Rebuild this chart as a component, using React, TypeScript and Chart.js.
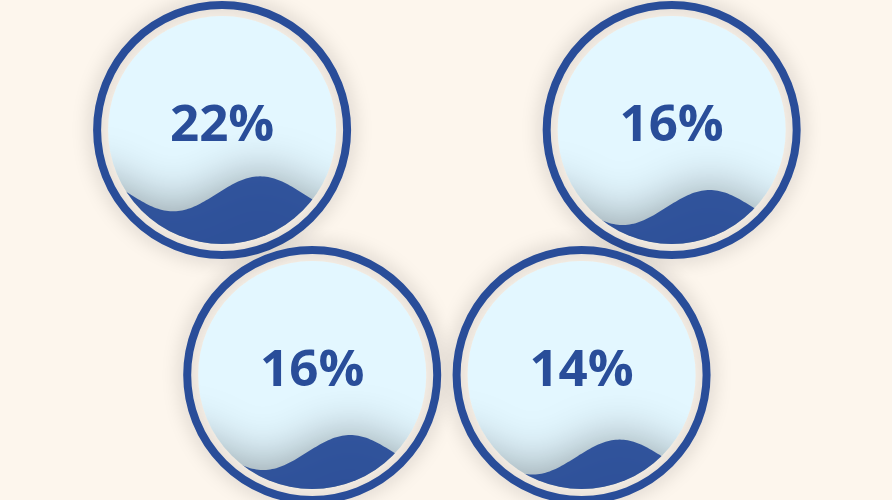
import React, { useEffect, useRef } from 'react';
import { Chart, registerables } from 'chart.js';

Chart.register(...registerables);

// ---- data ----
const gaugeNames = ['A', 'B', 'C', 'D'];
const values = [0.22, 0.16, 0.16, 0.14];
const valueLabels = ['22%', '16%', '16%', '14%'];

// ---- layout (percent of canvas) ----
const centerX = [24.9, 75.3, 35.0, 65.2];
const centerY = [26, 26, 75, 75];

const RING_R = 125;
const RING_W = 8;
const INNER_R = 114;
const AMP = 17.5;
const WAVE_LEN = 174;
const CREST_OFFSET = 38;

const liquidPlugin = {
  id: 'liquidFill',
  afterDatasetsDraw(chart: any) {
    const ctx: CanvasRenderingContext2D = chart.ctx;
    const meta = chart.getDatasetMeta(0);
    meta.data.forEach((pt: any, i: number) => {
      const cx = pt.x;
      const cy = pt.y;
      const v = values[i];
      // outline ring
      ctx.save();
      ctx.shadowBlur = 20;
      ctx.shadowColor = 'rgba(0,0,0,0.25)';
      ctx.beginPath();
      ctx.arc(cx, cy, RING_R, 0, Math.PI * 2);
      ctx.lineWidth = RING_W;
      ctx.strokeStyle = '#294D99';
      ctx.stroke();
      ctx.restore();
      // background
      ctx.save();
      ctx.beginPath();
      ctx.arc(cx, cy, INNER_R, 0, Math.PI * 2);
      ctx.fillStyle = '#E3F7FF';
      ctx.fill();
      ctx.clip();
      // wave
      const level = cy + INNER_R - v * 2 * INNER_R;
      const crestX = cx + CREST_OFFSET;
      ctx.shadowBlur = 50;
      ctx.shadowColor = 'rgba(0,0,0,0.4)';
      ctx.fillStyle = 'rgba(41,77,153,0.95)';
      ctx.beginPath();
      const x0 = cx - INNER_R - 60;
      const x1 = cx + INNER_R + 60;
      for (let x = x0; x <= x1; x += 2) {
        const y = level - AMP * Math.cos((2 * Math.PI * (x - crestX)) / WAVE_LEN);
        if (x === x0) ctx.moveTo(x, y);
        else ctx.lineTo(x, y);
      }
      ctx.lineTo(x1, cy + INNER_R + 80);
      ctx.lineTo(x0, cy + INNER_R + 80);
      ctx.closePath();
      ctx.fill();
      ctx.restore();
      // label
      ctx.save();
      ctx.font = 'bold 51px "Open Sans", "Noto Sans", sans-serif';
      ctx.fillStyle = '#294D99';
      ctx.textAlign = 'center';
      ctx.textBaseline = 'alphabetic';
      ctx.fillText(valueLabels[i], cx, cy + 11);
      ctx.restore();
    });
  },
};

export default function App() {
  const canvasRef = useRef<HTMLCanvasElement | null>(null);
  useEffect(() => {
    if (!canvasRef.current) return;
    const chart = new Chart(canvasRef.current, {
      type: 'scatter',
      data: {
        labels: gaugeNames,
        datasets: [
          {
            label: 'liquid',
            data: centerX.map((x, i) => ({ x, y: centerY[i] })),
            pointRadius: 0,
            pointHoverRadius: 0,
          },
        ],
      },
      options: {
        responsive: true,
        maintainAspectRatio: false,
        animation: false,
        layout: { padding: 0 },
        events: [],
        scales: {
          x: { type: 'linear', min: 0, max: 100, display: false },
          y: { type: 'linear', min: 0, max: 100, reverse: true, display: false },
        },
        plugins: { legend: { display: false }, tooltip: { enabled: false } },
      },
      plugins: [liquidPlugin],
    });
    return () => chart.destroy();
  }, []);
  return (
    <div
      style={{
        position: 'fixed',
        left: 0,
        top: 0,
        width: 892,
        height: 500,
        background: '#FDF6ED',
      }}
    >
      <canvas ref={canvasRef} />
    </div>
  );
}
